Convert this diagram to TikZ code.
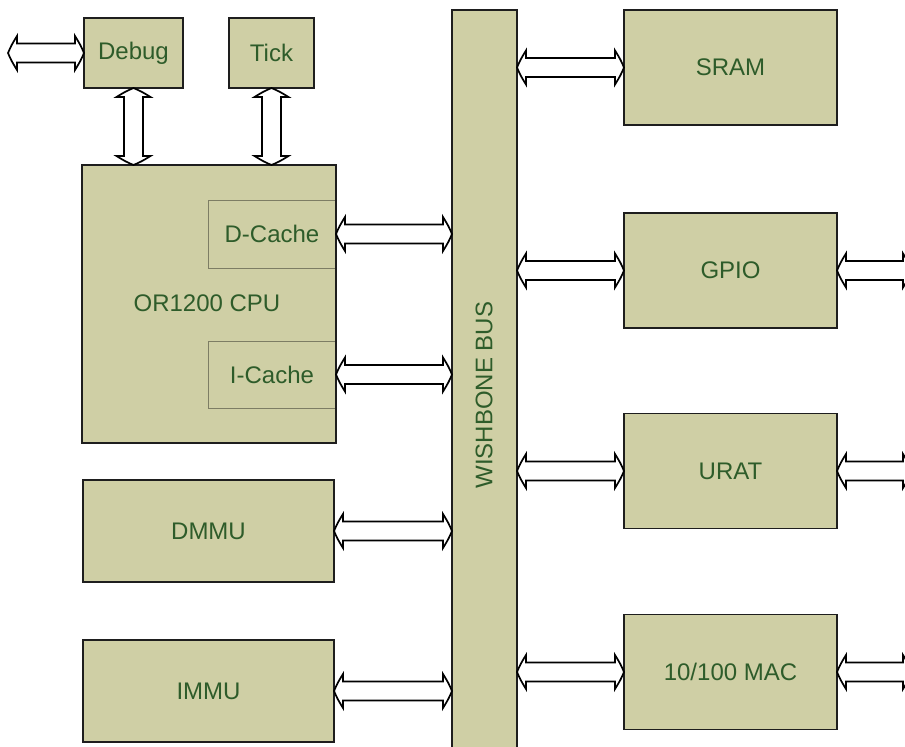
\documentclass[tikz,border=0pt]{standalone}
\usepackage{fontspec}
\setmainfont{Liberation Sans}
\usetikzlibrary{calc}
\definecolor{boxfill}{RGB}{207,207,165}
\definecolor{txtgreen}{RGB}{46,92,42}
\definecolor{cacheline}{RGB}{125,125,100}
\definecolor{edgeblack}{RGB}{30,30,30}
\tikzset{
  blk/.style={draw=edgeblack, line width=1.7pt, fill=boxfill, text=txtgreen,
    font=\fontsize{24}{28}\selectfont, inner sep=0pt, outer sep=0pt},
  cachebox/.style={draw=cacheline, line width=0.8pt, fill=boxfill, text=txtgreen,
    font=\fontsize{24}{28}\selectfont, inner sep=0pt, outer sep=0pt},
  lbl/.style={text=txtgreen, font=\fontsize{24}{28}\selectfont, inner sep=0pt},
  dblarr/.style={draw=black, line width=1.7pt, fill=white, line join=miter},
}
\newcommand\harrow[2]{%
  \draw[dblarr] let \p1=(#1), \p2=(#2) in
    (\x1,\y1) .. controls (\x1+3.5pt,\y1+8pt) .. (\x1+9pt,\y1+17pt) -- (\x1+9pt,\y1+9.5pt) -- (\x2-9pt,\y1+9.5pt)
    -- (\x2-9pt,\y1+17pt) .. controls (\x2-3.5pt,\y1+8pt) .. (\x2,\y1)
    .. controls (\x2-3.5pt,\y1-8pt) .. (\x2-9pt,\y1-17pt) -- (\x2-9pt,\y1-9.5pt)
    -- (\x1+9pt,\y1-9.5pt) -- (\x1+9pt,\y1-17pt) .. controls (\x1+3.5pt,\y1-8pt) .. cycle;}
\newcommand\varrow[2]{%
  \draw[dblarr] let \p1=(#1), \p2=(#2) in
    (\x1,\y1) .. controls (\x1+8pt,\y1-3.5pt) .. (\x1+17pt,\y1-9pt) -- (\x1+9.5pt,\y1-9pt) -- (\x1+9.5pt,\y2+9pt)
    -- (\x1+17pt,\y2+9pt) .. controls (\x1+8pt,\y2+3.5pt) .. (\x1,\y2)
    .. controls (\x1-8pt,\y2+3.5pt) .. (\x1-17pt,\y2+9pt) -- (\x1-9.5pt,\y2+9pt)
    -- (\x1-9.5pt,\y1-9pt) -- (\x1-17pt,\y1-9pt) .. controls (\x1-8pt,\y1-3.5pt) .. cycle;}
\begin{document}
\begin{tikzpicture}[x=1pt,y=-1pt]
\fill[white] (0,0) rectangle (905,747);
\useasboundingbox (0,0) rectangle (905,747);

% bus
\node[blk, minimum width=65pt, minimum height=770pt] (bus) at (484.5,395) {};
\node[lbl, rotate=90] (buslabel) at (484,395) {WISHBONE BUS};

% top boxes
\node[blk, minimum width=99pt, minimum height=70pt] (debug) at (133.5,53) {Debug};
\node[blk, minimum width=85pt, minimum height=70pt] (tick) at (271.5,53) {Tick};

% CPU
\node[blk, minimum width=254pt, minimum height=278pt] (cpu) at (209,304) {};
\node[lbl] (cpulabel) at (207,303) {OR1200 CPU};
\node[cachebox, minimum width=128pt, minimum height=68pt] (dcache) at (272,234) {D-Cache};
\node[cachebox, minimum width=128pt, minimum height=67pt] (icache) at (272,374.5) {I-Cache};
\draw[draw=edgeblack, line width=1.7pt] (cpu.south west) rectangle (cpu.north east);

% MMUs
\node[blk, minimum width=251pt, minimum height=102pt] (dmmu) at (208.5,531) {DMMU};
\node[blk, minimum width=251pt, minimum height=102pt] (immu) at (208.5,691) {IMMU};

% right peripherals
\node[blk, minimum width=213pt, minimum height=115pt] (sram) at (730.5,67.5) {SRAM};
\node[blk, minimum width=213pt, minimum height=115pt] (gpio) at (730.5,270.5) {GPIO};
\node[blk, minimum width=213pt, minimum height=115pt] (urat) at (730.5,471) {URAT};
\node[blk, minimum width=213pt, minimum height=115pt] (mac) at (730.5,672) {10/100 MAC};

% free ends
\coordinate (dbgL) at (8,53);
\coordinate (edgeR) at (912,0);

% connectors
\harrow{dbgL}{debug.west}
\varrow{debug.south}{debug.south |- cpu.north}
\varrow{tick.south}{tick.south |- cpu.north}
\harrow{dcache.east}{dcache.east -| bus.west}
\harrow{icache.east}{icache.east -| bus.west}
\harrow{dmmu.east}{dmmu.east -| bus.west}
\harrow{immu.east}{immu.east -| bus.west}
\harrow{bus.east |- sram.west}{sram.west}
\harrow{bus.east |- gpio.west}{gpio.west}
\harrow{bus.east |- urat.west}{urat.west}
\harrow{bus.east |- mac.west}{mac.west}
\harrow{gpio.east}{gpio.east -| edgeR}
\harrow{urat.east}{urat.east -| edgeR}
\harrow{mac.east}{mac.east -| edgeR}
\end{tikzpicture}
\end{document}
